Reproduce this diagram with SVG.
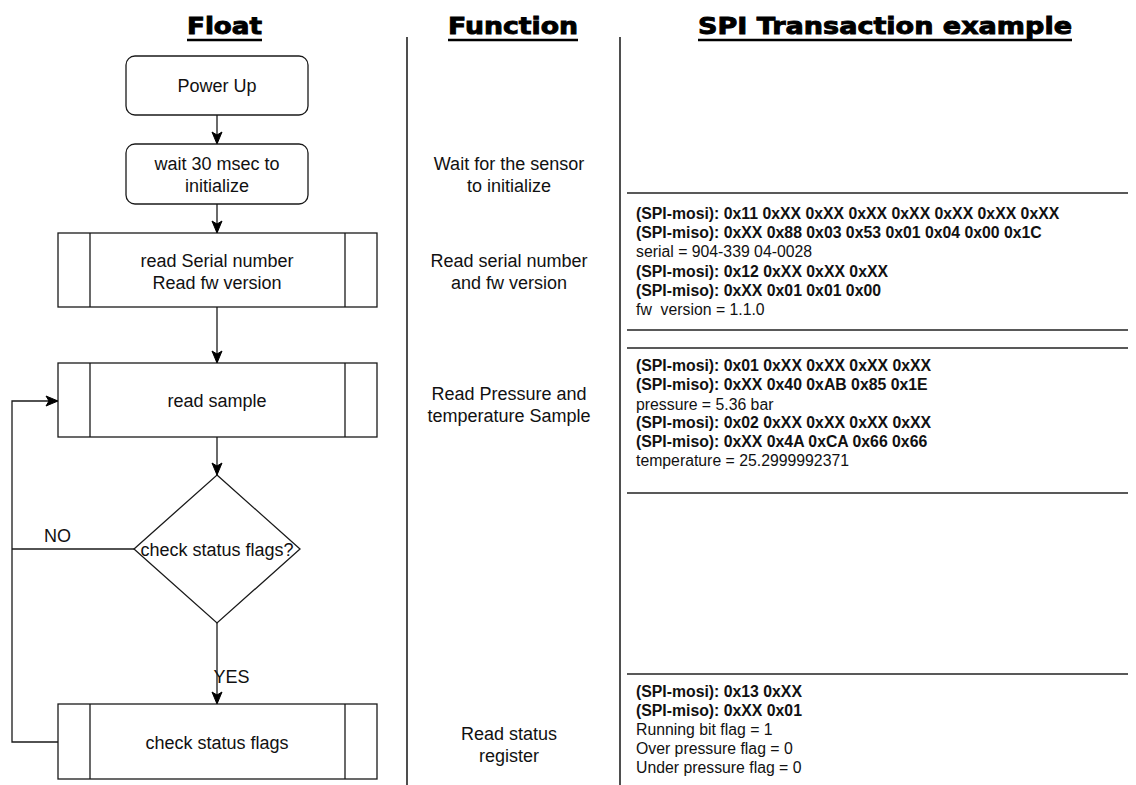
<svg xmlns="http://www.w3.org/2000/svg" width="1136" height="785" viewBox="0 0 1136 785">
<style>
.box{fill:#fff;stroke:#1a1a1a;stroke-width:1.3}
.ln{fill:none;stroke:#1a1a1a;stroke-width:1.3}
.sep{fill:none;stroke:#222;stroke-width:1.6}
.t{font-family:"Liberation Sans",Arial,sans-serif;font-size:18px;fill:#111;text-anchor:middle}
.h{font-family:"DejaVu Sans","Liberation Sans",sans-serif;font-weight:bold;font-size:23px;fill:#000;stroke:#000;stroke-width:0.9;text-anchor:middle}
.s{font-family:"Liberation Sans",Arial,sans-serif;font-size:15.8px;fill:#111}
.b{font-weight:bold}
</style>
<defs>
<marker id="arr" markerUnits="userSpaceOnUse" markerWidth="14" markerHeight="14" viewBox="0 0 14 14" refX="13" refY="7" orient="auto">
<path d="M1,2 L13,7 L1,12 L4,7 Z" fill="#000" stroke="#000" stroke-width="1"/>
</marker>
</defs>
<rect width="1136" height="785" fill="#fff"/>

<g id="headers">
<text class="h" x="224.5" y="34" textLength="75" lengthAdjust="spacingAndGlyphs">Float</text>
<line x1="187" y1="40" x2="262" y2="40" stroke="#000" stroke-width="2.4"/>
<text class="h" x="513" y="34" textLength="130" lengthAdjust="spacingAndGlyphs">Function</text>
<line x1="448" y1="40" x2="578" y2="40" stroke="#000" stroke-width="2.4"/>
<text class="h" x="885" y="34" textLength="374" lengthAdjust="spacingAndGlyphs">SPI Transaction example</text>
<line x1="698" y1="40" x2="1072" y2="40" stroke="#000" stroke-width="2.4"/>
</g>

<g id="separators">
<line class="sep" x1="407" y1="37" x2="407" y2="785"/>
<line class="sep" x1="620" y1="37" x2="620" y2="785"/>
<line class="sep" x1="627" y1="193" x2="1128" y2="193"/>
<line class="sep" x1="627" y1="330" x2="1128" y2="330"/>
<line class="sep" x1="627" y1="348" x2="1128" y2="348"/>
<line class="sep" x1="627" y1="493" x2="1128" y2="493"/>
<line class="sep" x1="627" y1="674" x2="1128" y2="674"/>
</g>

<g id="connectors">
<line class="ln" x1="217" y1="115" x2="217" y2="144" marker-end="url(#arr)"/>
<line class="ln" x1="217" y1="204" x2="217" y2="233" marker-end="url(#arr)"/>
<line class="ln" x1="217" y1="307" x2="217" y2="363" marker-end="url(#arr)"/>
<line class="ln" x1="217" y1="437" x2="217" y2="475" marker-end="url(#arr)"/>
<line class="ln" x1="217" y1="623" x2="217" y2="704" marker-end="url(#arr)"/>
<polyline class="ln" points="134,549 12,549"/>
<polyline class="ln" points="58,742 12,742 12,401 58,401" marker-end="url(#arr)"/>
<text class="t" x="57.5" y="541.5">NO</text>
<text class="t" x="231.5" y="682.5">YES</text>
</g>

<g id="n_powerup">
<rect class="box" x="126" y="56" width="182" height="59" rx="9"/>
<text class="t" x="217" y="91.5">Power Up</text>
</g>
<g id="n_wait">
<rect class="box" x="126" y="144" width="182" height="60" rx="9"/>
<text class="t" x="217" y="169.5">wait 30 msec to</text>
<text class="t" x="217" y="191.5">initialize</text>
</g>
<g id="n_serial">
<rect class="box" x="58" y="233" width="319" height="74"/>
<line class="ln" x1="90" y1="233" x2="90" y2="307"/>
<line class="ln" x1="345" y1="233" x2="345" y2="307"/>
<text class="t" x="217" y="266.5">read Serial number</text>
<text class="t" x="217" y="288.5">Read fw version</text>
</g>
<g id="n_sample">
<rect class="box" x="58" y="363" width="319" height="74"/>
<line class="ln" x1="90" y1="363" x2="90" y2="437"/>
<line class="ln" x1="345" y1="363" x2="345" y2="437"/>
<text class="t" x="217" y="407">read sample</text>
</g>
<g id="n_decision">
<polygon class="box" points="217,475 300,549 217,623 134,549"/>
<text class="t" x="217" y="555.5">check status flags?</text>
</g>
<g id="n_check">
<rect class="box" x="58" y="704" width="319" height="75"/>
<line class="ln" x1="90" y1="704" x2="90" y2="779"/>
<line class="ln" x1="345" y1="704" x2="345" y2="779"/>
<text class="t" x="217" y="749">check status flags</text>
</g>

<g id="function_col">
<text class="t" x="509" y="169.5">Wait for the sensor</text>
<text class="t" x="509" y="191.5">to initialize</text>
<text class="t" x="509" y="266.5">Read serial number</text>
<text class="t" x="509" y="288.5">and fw version</text>
<text class="t" x="509" y="399.5">Read Pressure and</text>
<text class="t" x="509" y="421.5">temperature Sample</text>
<text class="t" x="509" y="739.5">Read status</text>
<text class="t" x="509" y="761.5">register</text>
</g>

<g id="spi_col">
<text class="s b" x="636" y="218.5">(SPI-mosi): 0x11 0xXX 0xXX 0xXX 0xXX 0xXX 0xXX 0xXX</text>
<text class="s b" x="636" y="237.5">(SPI-miso): 0xXX 0x88 0x03 0x53 0x01 0x04 0x00 0x1C</text>
<text class="s" x="636" y="257">serial = 904-339 04-0028</text>
<text class="s b" x="636" y="276.5">(SPI-mosi): 0x12 0xXX 0xXX 0xXX</text>
<text class="s b" x="636" y="295.5">(SPI-miso): 0xXX 0x01 0x01 0x00</text>
<text class="s" x="636" y="314.5" style="white-space:pre">fw  version = 1.1.0</text>

<text class="s b" x="636" y="371">(SPI-mosi): 0x01 0xXX 0xXX 0xXX 0xXX</text>
<text class="s b" x="636" y="390">(SPI-miso): 0xXX 0x40 0xAB 0x85 0x1E</text>
<text class="s" x="636" y="409.5">pressure = 5.36 bar</text>
<text class="s b" x="636" y="428">(SPI-mosi): 0x02 0xXX 0xXX 0xXX 0xXX</text>
<text class="s b" x="636" y="447">(SPI-miso): 0xXX 0x4A 0xCA 0x66 0x66</text>
<text class="s" x="636" y="466">temperature = 25.2999992371</text>

<text class="s b" x="636" y="696.5">(SPI-mosi): 0x13 0xXX</text>
<text class="s b" x="636" y="715.5">(SPI-miso): 0xXX 0x01</text>
<text class="s" x="636" y="735">Running bit flag = 1</text>
<text class="s" x="636" y="754">Over pressure flag = 0</text>
<text class="s" x="636" y="773">Under pressure flag = 0</text>
</g>
</svg>
